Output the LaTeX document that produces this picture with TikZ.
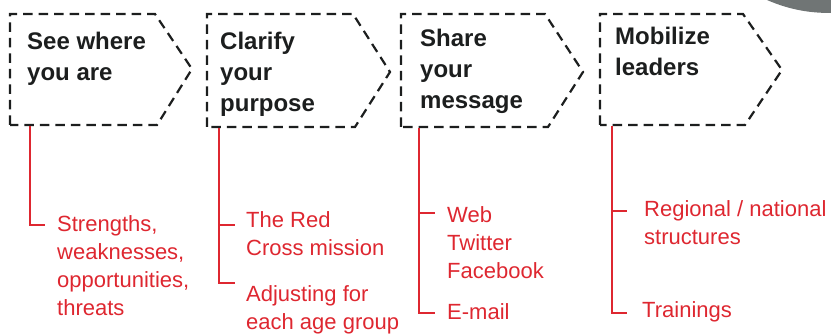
\documentclass[tikz,border=0pt]{standalone}
\usepackage{fontspec}
\setmainfont{Liberation Sans}
\definecolor{rc}{RGB}{222,39,48}
\definecolor{dk}{RGB}{28,30,30}
\definecolor{gr}{RGB}{112,117,117}
\begin{document}
\begin{tikzpicture}[x=1pt,y=-1pt,
  stepbox/.style={draw=dk, line width=2.2pt, dash pattern=on 9.5pt off 6pt},
  head/.style={anchor=base west, inner sep=0pt, text=dk, font=\fontsize{24}{31}\selectfont\bfseries, align=left},
  item/.style={anchor=base west, inner sep=0pt, text=rc, font=\fontsize{22}{28}\selectfont, align=left},
  branch/.style={draw=rc, line width=2pt}]
\useasboundingbox (0,0) rectangle (831,336);
\fill[gr] (767,0) .. controls (790,10) and (810,13) .. (831,13) -- (831,0) -- cycle;
% step boxes
\draw[stepbox] (10,125) -- (10,14) -- (155,14) -- (192,69) -- (157,125) -- cycle;
\draw[stepbox] (207,127) -- (207,14) -- (353,14) -- (390,72) -- (355,127) -- cycle;
\draw[stepbox] (401,127) -- (401,14) -- (545,14) -- (583,72) -- (548,127) -- cycle;
\draw[stepbox] (600,125) -- (600,14) -- (743,14) -- (782,70) -- (745,125) -- cycle;
% headings (base anchor = baseline of last line)
\node[head] (t1) at (27,81) {See where\\you are};
\node[head] (t2) at (220,112) {Clarify\\your\\purpose};
\node[head] (t3) at (420,109) {Share\\your\\message};
\node[head] (t4) at (615,76) {Mobilize\\leaders};
% items
\node[item] (i11) at (57,316) {Strengths,\\weaknesses,\\opportunities,\\threats};
\node[item] (i21) at (246,256) {The Red\\Cross mission};
\node[item] (i22) at (246,330) {Adjusting for\\each age group};
\node[item] (i31) at (447,279) {Web\\Twitter\\Facebook};
\node[item] (i32) at (447,320) {E-mail};
\node[item] (i41) at (644,245) {Regional / national\\structures};
\node[item] (i42) at (642,318) {Trainings};
% connectors
\coordinate (s1) at (30,126);
\coordinate (e11) at (45,225);
\coordinate (s2) at (219,128);
\coordinate (e21) at (235,225);
\coordinate (e22) at (235,283);
\coordinate (s3) at (419,128);
\coordinate (e31) at (435,213);
\coordinate (e32) at (435,313);
\coordinate (s4) at (612,126);
\coordinate (e41) at (627,211);
\coordinate (e42) at (627,313);
\draw[branch] (s1) |- (e11);
\draw[branch] (s2) |- (e22);
\draw[branch] (s2 |- e21) -- (e21);
\draw[branch] (s3) |- (e32);
\draw[branch] (s3 |- e31) -- (e31);
\draw[branch] (s4) |- (e42);
\draw[branch] (s4 |- e41) -- (e41);
\end{tikzpicture}
\end{document}
